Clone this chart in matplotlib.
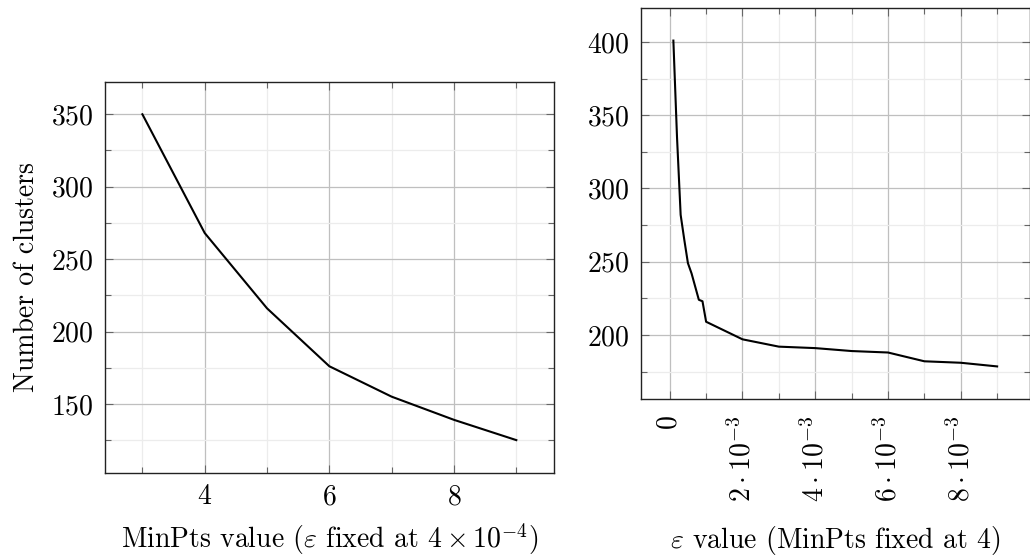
import numpy as np
import matplotlib
matplotlib.use("Agg")
import matplotlib.pyplot as plt
from matplotlib.ticker import MultipleLocator, FixedLocator, FixedFormatter

plt.rcParams['font.family'] = 'serif'
plt.rcParams['font.serif'] = ['cmr10']
plt.rcParams['mathtext.fontset'] = 'cm'
plt.rcParams['axes.formatter.use_mathtext'] = True
plt.rcParams['font.size'] = 20

# left panel: MinPts sweep
minpts = [3, 4, 5, 6, 7, 8, 9]
clusters_minpts = [350, 268, 216, 176, 155, 139, 125]

# right panel: epsilon sweep
eps = [1e-4, 2e-4, 3e-4, 4e-4, 5e-4, 6e-4, 7e-4, 8e-4, 9e-4, 1e-3,
       2e-3, 3e-3, 4e-3, 5e-3, 6e-3, 7e-3, 8e-3, 9e-3]
clusters_eps = [401, 335, 282, 265, 249, 242, 233, 224, 223, 209,
                197, 192, 191, 189, 188, 182, 181, 178.5]

eps_ticks = [0, 2e-3, 4e-3, 6e-3, 8e-3]
eps_ticklabels = [r'$0$', r'$2\cdot10^{-3}$', r'$4\cdot10^{-3}$',
                  r'$6\cdot10^{-3}$', r'$8\cdot10^{-3}$']


def enlarge(vals, f=0.1):
    # same 10% padding pgfplots uses
    lo, hi = min(vals), max(vals)
    d = (hi - lo) * f
    return lo - d, hi + d


def style(ax):
    ax.set_axisbelow(True)
    ax.grid(which='major', color='#bfbfbf', lw=0.9)
    ax.grid(which='minor', color='#ececec', lw=0.9)
    ax.tick_params(which='both', direction='in', top=True, right=True,
                   color='#666666', width=0.8)
    ax.tick_params(which='major', length=5.8, pad=8)
    ax.tick_params(which='minor', length=4)
    for s in ax.spines.values():
        s.set_color('#222222')
        s.set_linewidth(1.0)


fig = plt.figure(figsize=(10.30, 5.59), dpi=100)

ax1 = fig.add_axes([105 / 1030, (559 - 472.7) / 559, 448.7 / 1030, 391 / 559])
ax1.plot(minpts, clusters_minpts, color='black', lw=1.5)
ax1.set_xlim(*enlarge(minpts))
ax1.set_ylim(*enlarge(clusters_minpts))
ax1.xaxis.set_major_locator(MultipleLocator(2))
ax1.xaxis.set_minor_locator(MultipleLocator(1))
ax1.yaxis.set_major_locator(MultipleLocator(50))
ax1.yaxis.set_minor_locator(MultipleLocator(25))
style(ax1)
ax1.set_xlabel(r'MinPts value ($\varepsilon$ fixed at $4\times10^{-4}$)', labelpad=8)
ax1.set_ylabel('Number of clusters')
ax1.yaxis.set_label_coords(-0.145, 0.5)

ax2 = fig.add_axes([641 / 1030, (559 - 399) / 559, 388.5 / 1030, 391 / 559])
ax2.plot(eps, clusters_eps, color='black', lw=1.5)
ax2.set_xlim(*enlarge(eps))
ax2.set_ylim(*enlarge(clusters_eps))
ax2.xaxis.set_major_locator(FixedLocator(eps_ticks))
ax2.xaxis.set_major_formatter(FixedFormatter(eps_ticklabels))
ax2.xaxis.set_minor_locator(MultipleLocator(1e-3))
ax2.yaxis.set_major_locator(MultipleLocator(50))
ax2.yaxis.set_minor_locator(MultipleLocator(25))
style(ax2)
ax2.tick_params(axis='x', which='major', pad=12)
for lab in ax2.get_xticklabels():
    lab.set_rotation(90)
    lab.set_va('top')
    lab.set_ha('center')
ax2.set_xlabel(r'$\varepsilon$ value (MinPts fixed at 4)', labelpad=16)

fig.savefig('out.png', dpi=100)
